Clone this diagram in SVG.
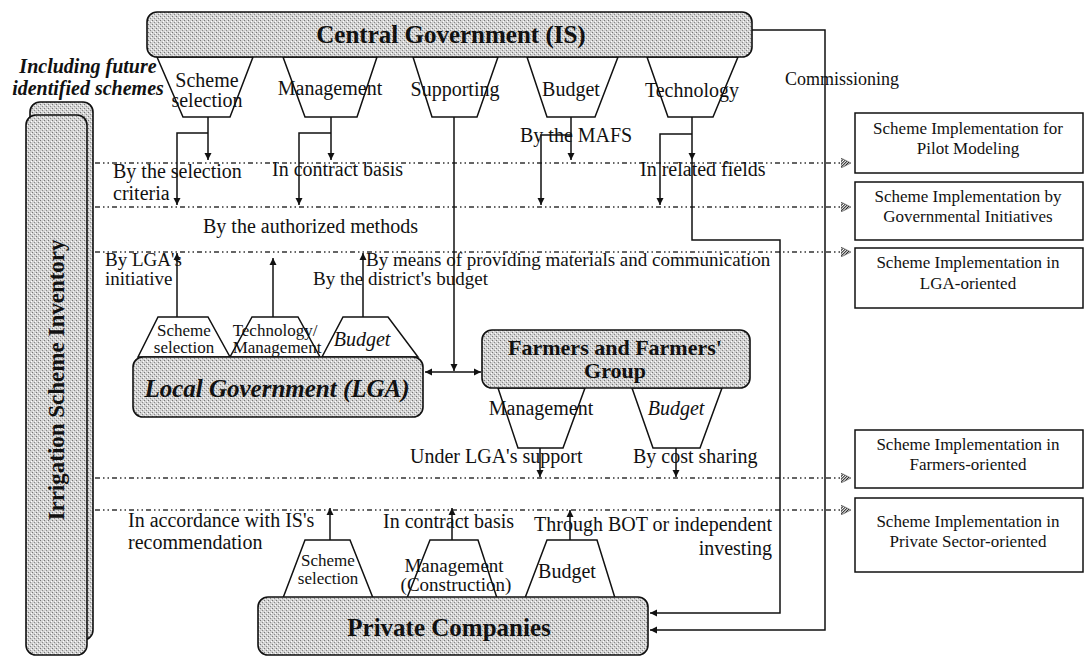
<svg xmlns="http://www.w3.org/2000/svg" width="1084" height="658" viewBox="0 0 1084 658">
<style>
text{font-family:"Liberation Serif","Times New Roman",serif;fill:#111;}
.t{font-size:20px;}
.t19{font-size:19px;}
.tl{font-size:17px;}
.ts{font-size:17px;}
.c{text-anchor:middle;}
.e{text-anchor:end;}
.hb{font-weight:bold;}
.it{font-style:italic;}
.box{fill:url(#stip);stroke:#111;stroke-width:1.6;}
.trap{fill:#fff;stroke:#111;stroke-width:1.5;}
.rbox{fill:#fff;stroke:#111;stroke-width:1.5;}
.ln{fill:none;stroke:#111;stroke-width:1.5;}
.ar{fill:none;stroke:#111;stroke-width:1.5;marker-end:url(#ah);}
.dot{fill:none;stroke:#333;stroke-width:1.3;stroke-dasharray:5 3 1.5 3 1.5 3;}
</style>
<defs>
<pattern id="stip" width="4" height="4" patternUnits="userSpaceOnUse">
<rect width="4" height="4" fill="#d2d2d2"/>
<rect x="0" y="0" width="1" height="1" fill="#777"/>
<rect x="2" y="2" width="1" height="1" fill="#8a8a8a"/>
<rect x="3" y="1" width="1" height="1" fill="#fff"/>
<rect x="1" y="3" width="1" height="1" fill="#f4f4f4"/>
</pattern>
<pattern id="hatch" width="2" height="2" patternUnits="userSpaceOnUse" patternTransform="rotate(45)">
<rect width="1" height="2" fill="#222"/>
</pattern>
<marker id="ah" viewBox="0 0 10 10" refX="10" refY="5" markerWidth="7" markerHeight="8" markerUnits="userSpaceOnUse" orient="auto-start-reverse">
<path d="M0,0 L10,5 L0,10 Z" fill="#111"/>
</marker>
<marker id="hh" viewBox="0 0 10 10" refX="2" refY="5" markerWidth="10" markerHeight="10" markerUnits="userSpaceOnUse" orient="auto">
<path d="M0,0 L10,5 L0,10 Z" fill="url(#hatch)" stroke="#555" stroke-width="0.6"/>
</marker>
</defs>

<rect width="1084" height="658" fill="#fff"/>

<g id="connectors">
<path class="dot" d="M95,163 H843" marker-end="url(#hh)"/>
<path class="dot" d="M95,207 H843" marker-end="url(#hh)"/>
<path class="dot" d="M95,252 H843" marker-end="url(#hh)"/>
<path class="dot" d="M95,478 H843" marker-end="url(#hh)"/>
<path class="dot" d="M95,510 H843" marker-end="url(#hh)"/>

<path class="ar" d="M208,117 V160"/>
<path class="ar" d="M208,133 H177 V205"/>
<path class="ar" d="M331,117 V160"/>
<path class="ar" d="M331,133 H299 V205"/>
<path class="ar" d="M571,117 V160"/>
<path class="ar" d="M571,135 H541 V205"/>
<path class="ar" d="M692,117 V160"/>
<path class="ar" d="M692,134 H660 V205"/>
<path class="ar" d="M692,160 V240 H780 V613 H650"/>
<path class="ar" d="M752,30 H825 V630 H650"/>
<path class="ar" d="M454,117 V371"/>
<path class="ln" d="M425,372 H481" marker-start="url(#ah)" marker-end="url(#ah)"/>

<path class="ar" d="M177,317 V253"/>
<path class="ar" d="M273,317 V258"/>
<path class="ar" d="M363,317 V253"/>

<path class="ar" d="M540,448 V477"/>
<path class="ar" d="M676,448 V477"/>

<path class="ar" d="M330,540 V508"/>
<path class="ar" d="M452,540 V508"/>
<path class="ar" d="M570,540 V510"/>
</g>

<g id="inventory">
<rect class="box" x="30" y="102" width="63" height="538" rx="10"/>
<rect class="box" x="26" y="115" width="61" height="540" rx="10"/>
<text class="hb" font-size="23" text-anchor="middle" transform="translate(64,380) rotate(-90)">Irrigation Scheme Inventory</text>
</g>

<g id="future">
<text class="t hb it c" x="88" y="73">Including future</text>
<text class="t hb it c" x="88" y="95">identified schemes</text>
</g>

<g id="central-gov">
<polygon class="trap" points="157,57 253,57 230,117 183,117"/>
<polygon class="trap" points="283,57 377,57 357,117 305,117"/>
<polygon class="trap" points="413,57 498,57 477,117 432,117"/>
<polygon class="trap" points="527,57 618,57 595,117 547,117"/>
<polygon class="trap" points="647,57 738,57 713,117 668,117"/>
<rect class="box" x="147" y="12" width="605" height="45" rx="10"/>
<text class="hb c" font-size="25" x="451" y="43">Central Government (IS)</text>
<text class="t c" x="207" y="87">Scheme</text>
<text class="t c" x="207" y="107">selection</text>
<text class="t c" x="330" y="95">Management</text>
<text class="t c" x="455" y="96">Supporting</text>
<text class="t c" x="571" y="96">Budget</text>
<text class="t c" x="692" y="97">Technology</text>
</g>

<g id="labels">
<text x="785" y="85" style="font-size:18px">Commissioning</text>
<text class="t" x="113" y="178">By the selection</text>
<text class="t" x="113" y="200">criteria</text>
<text class="t" x="272" y="176">In contract basis</text>
<text class="t" x="520" y="142">By the MAFS</text>
<text class="t" x="640" y="176">In related fields</text>
<text class="t" x="203" y="233">By the authorized methods</text>
<text class="t19" x="105" y="266">By LGA's</text>
<text class="t19" x="105" y="285">initiative</text>
<text class="t19" x="366" y="266">By means of providing materials and communication</text>
<text class="t19" x="313" y="285">By the district's budget</text>
<text class="t" x="410" y="463">Under LGA's support</text>
<text class="t" x="633" y="463">By cost sharing</text>
<text class="t" x="128" y="527">In accordance with IS's</text>
<text class="t" x="128" y="549">recommendation</text>
<text class="t" x="383" y="528">In contract basis</text>
<text class="t e" x="772" y="531">Through BOT or independent</text>
<text class="t e" x="772" y="555">investing</text>
</g>

<g id="local-gov">
<polygon class="trap" points="158,317 208,317 230,357 138,357"/>
<polygon class="trap" points="252,317 298,317 320,357 230,357"/>
<polygon class="trap" points="343,317 388,317 418,357 322,357"/>
<rect class="box" x="133" y="357" width="290" height="60" rx="10"/>
<text class="hb it c" font-size="25" x="277" y="397">Local Government (LGA)</text>
<text class="tl c" x="184" y="336">Scheme</text>
<text class="tl c" x="184" y="353">selection</text>
<text class="tl c" x="275" y="336">Technology/</text>
<text class="tl c" x="277" y="353">Management</text>
<text class="t it c" x="362" y="346">Budget</text>
</g>

<g id="farmers">
<polygon class="trap" points="498,388 585,388 563,448 518,448"/>
<polygon class="trap" points="632,388 722,388 700,448 653,448"/>
<rect class="box" x="482" y="330" width="268" height="58" rx="10"/>
<text class="hb c" font-size="22" x="615" y="355">Farmers and Farmers'</text>
<text class="hb c" font-size="22" x="615" y="378">Group</text>
<text class="t c" x="541" y="415">Management</text>
<text class="t it c" x="676" y="415">Budget</text>
</g>

<g id="private">
<polygon class="trap" points="305,540 350,540 373,598 283,598"/>
<polygon class="trap" points="430,540 478,540 497,598 407,598"/>
<polygon class="trap" points="547,540 597,540 615,598 525,598"/>
<rect class="box" x="258" y="597" width="390" height="58" rx="10"/>
<text class="hb c" font-size="25" x="449" y="636">Private Companies</text>
<text class="tl c" x="328" y="566">Scheme</text>
<text class="tl c" x="328" y="584">selection</text>
<text class="t19 c" x="454" y="572">Management</text>
<text class="t19 c" x="456" y="591">(Construction)</text>
<text class="t c" x="567" y="578">Budget</text>
</g>

<g id="impl-pilot">
<rect class="rbox" x="855" y="113" width="228" height="60"/>
<text class="ts c" x="968" y="134">Scheme Implementation for</text>
<text class="ts c" x="968" y="154">Pilot Modeling</text>
</g>
<g id="impl-gov">
<rect class="rbox" x="855" y="182" width="228" height="58"/>
<text class="ts c" x="968" y="202">Scheme Implementation by</text>
<text class="ts c" x="968" y="222">Governmental Initiatives</text>
</g>
<g id="impl-lga">
<rect class="rbox" x="855" y="248" width="228" height="60"/>
<text class="ts c" x="968" y="268">Scheme Implementation in</text>
<text class="ts c" x="968" y="289">LGA-oriented</text>
</g>
<g id="impl-farmers">
<rect class="rbox" x="855" y="430" width="228" height="58"/>
<text class="ts c" x="968" y="450">Scheme Implementation in</text>
<text class="ts c" x="968" y="470">Farmers-oriented</text>
</g>
<g id="impl-private">
<rect class="rbox" x="855" y="498" width="228" height="74"/>
<text class="ts c" x="968" y="527">Scheme Implementation in</text>
<text class="ts c" x="968" y="547">Private Sector-oriented</text>
</g>
</svg>
